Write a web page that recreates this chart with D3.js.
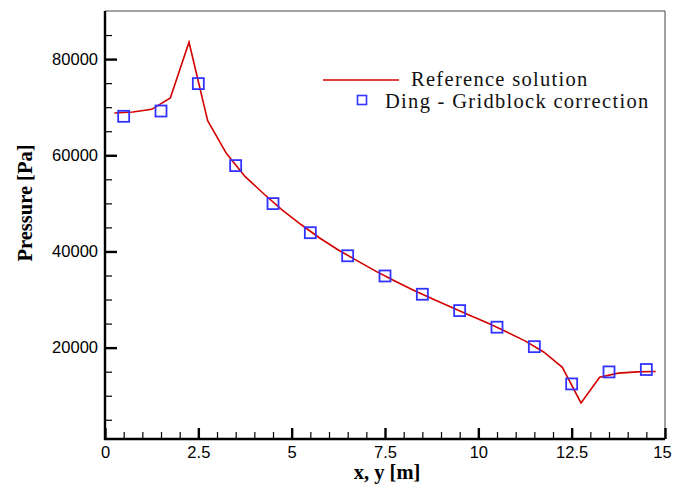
<!DOCTYPE html>
<html>
<head>
<meta charset="utf-8">
<script src="https://cdn.jsdelivr.net/npm/d3@7"></script>
<style>
  body { margin: 0; background: #fff; }
  svg { display: block; }
</style>
</head>
<body>
<div id="visual"></div>
<script>
// Reference solution (cell centres)
const refX = [0.25, 0.75, 1.25, 1.75, 2.25, 2.75, 3.25, 3.75, 4.25, 4.75, 5.25, 5.75, 6.25, 6.75, 7.25,
              7.75, 8.25, 8.75, 9.25, 9.75, 10.25, 10.75, 11.25, 11.75, 12.25, 12.75, 13.25, 13.75, 14.25, 14.75];
const refP = [68800, 69000, 69550, 71900, 83500, 67200, 60400, 55600, 52000, 48600, 45600, 42800, 40300, 38100, 35900,
              33900, 32000, 30200, 28500, 26800, 25100, 23300, 21400, 19100, 15900, 8500, 13850, 14700, 14950, 15050];

// Ding - Gridblock correction
const dingX = [0.5, 1.5, 2.5, 3.5, 4.5, 5.5, 6.5, 7.5, 8.5, 9.5, 10.5, 11.5, 12.5, 13.5, 14.5];
const dingP = [68100, 69200, 74900, 57850, 49950, 43900, 39100, 34900, 31100, 27700, 24250, 20200, 12450, 14950, 15450];

const xTicks = [0, 2.5, 5, 7.5, 10, 12.5, 15];
const yTicks = [20000, 40000, 60000, 80000];

const legendLabels = ["Reference solution", "Ding - Gridblock correction"];

const width = 673, height = 485;
const plot = { left: 105, right: 665, top: 11, bottom: 439 };

const svg = d3.select("#visual")
    .append("svg")
    .attr("width", width)
    .attr("height", height);

const x = d3.scaleLinear().domain([0, 15]).range([plot.left, plot.right]);
const y = d3.scaleLinear().domain([1000, 90000]).range([plot.bottom, plot.top]);

// frame (top and right thin)
svg.append("path")
    .attr("d", `M${plot.left},${plot.top}H${plot.right}V${plot.bottom}`)
    .attr("fill", "none")
    .attr("stroke", "#444")
    .attr("stroke-width", 1);

// minor ticks
const xMinor = d3.range(0.5, 15, 0.5).filter(v => Math.abs(v / 2.5 - Math.round(v / 2.5)) > 1e-6);
const yMinor = d3.range(5000, 90000, 5000).filter(v => v % 20000 !== 0);

svg.append("g")
    .attr("transform", `translate(0,${plot.bottom})`)
    .call(d3.axisBottom(x).tickValues(xMinor).tickSize(-7).tickFormat(""))
    .call(g => g.select(".domain").remove())
    .call(g => g.selectAll("line").attr("stroke", "#000").attr("stroke-width", 1.2));

svg.append("g")
    .attr("transform", `translate(${plot.left},0)`)
    .call(d3.axisLeft(y).tickValues(yMinor).tickSize(-7).tickFormat(""))
    .call(g => g.select(".domain").remove())
    .call(g => g.selectAll("line").attr("stroke", "#000").attr("stroke-width", 1.2));

// major ticks + labels
const xAxis = svg.append("g")
    .attr("transform", `translate(0,${plot.bottom})`)
    .call(d3.axisBottom(x).tickValues(xTicks).tickSize(-11).tickPadding(7).tickFormat(d => d));
xAxis.select(".domain").attr("d", `M${plot.left - 1},0H${plot.right}`).attr("stroke", "#000").attr("stroke-width", 2.4);
xAxis.selectAll("line").attr("stroke", "#000").attr("stroke-width", 2.4);
xAxis.selectAll("text")
    .attr("fill", "#000")
    .attr("dx", d => d === 15 ? -3 : 0)   // keep last label inside the page
    .style("font-family", "'Liberation Sans', Arial, sans-serif")
    .style("font-size", "16.5px");

const yAxis = svg.append("g")
    .attr("transform", `translate(${plot.left},0)`)
    .call(d3.axisLeft(y).tickValues(yTicks).tickSize(-12).tickPadding(7).tickFormat(d3.format("d")));
yAxis.select(".domain").attr("d", `M0,${plot.top}V${plot.bottom + 1}`).attr("stroke", "#000").attr("stroke-width", 2.4);
yAxis.selectAll("line").attr("stroke", "#000").attr("stroke-width", 2.4);
yAxis.selectAll("text")
    .attr("fill", "#000")
    .style("font-family", "'Liberation Sans', Arial, sans-serif")
    .style("font-size", "16.5px");

// reference line
const line = d3.line()
    .x((d, i) => x(refX[i]))
    .y(d => y(d));

svg.append("path")
    .datum(refP)
    .attr("fill", "none")
    .attr("stroke", "#d40000")
    .attr("stroke-width", 1.6)
    .attr("d", line);

// Ding squares
const sq = 11;
svg.append("g")
    .selectAll("rect")
    .data(dingP)
    .join("rect")
    .attr("x", (d, i) => x(dingX[i]) - sq / 2)
    .attr("y", d => y(d) - sq / 2)
    .attr("width", sq)
    .attr("height", sq)
    .attr("fill", "none")
    .attr("stroke", "#3333ff")
    .attr("stroke-width", 1.8);

// axis titles
svg.append("text")
    .attr("x", 387)
    .attr("y", 479)
    .attr("text-anchor", "middle")
    .style("font-family", "'Liberation Serif', 'Times New Roman', serif")
    .style("font-weight", "bold")
    .style("font-size", "20.5px")
    .text("x, y [m]");

svg.append("text")
    .attr("transform", "translate(32,203) rotate(-90)")
    .attr("text-anchor", "middle")
    .style("font-family", "'Liberation Serif', 'Times New Roman', serif")
    .style("font-weight", "bold")
    .style("font-size", "20.5px")
    .text("Pressure [Pa]");

// legend
const legend = svg.append("g")
    .style("font-family", "'Liberation Serif', 'Times New Roman', serif")
    .style("font-size", "20.5px")
    .style("letter-spacing", "1.3px")
    .attr("fill", "#111");

legend.append("line")
    .attr("x1", 323).attr("x2", 399)
    .attr("y1", 80).attr("y2", 80)
    .attr("stroke", "#d40000")
    .attr("stroke-width", 1.6);
legend.append("text")
    .attr("x", 411).attr("y", 85.5)
    .text(legendLabels[0]);

legend.append("rect")
    .attr("x", 362 - 4.5).attr("y", 100 - 4.5)
    .attr("width", 9).attr("height", 9)
    .attr("fill", "none")
    .attr("stroke", "#3333ff")
    .attr("stroke-width", 1.6);
legend.append("text")
    .attr("x", 385).attr("y", 108)
    .text(legendLabels[1]);
</script>
</body>
</html>
